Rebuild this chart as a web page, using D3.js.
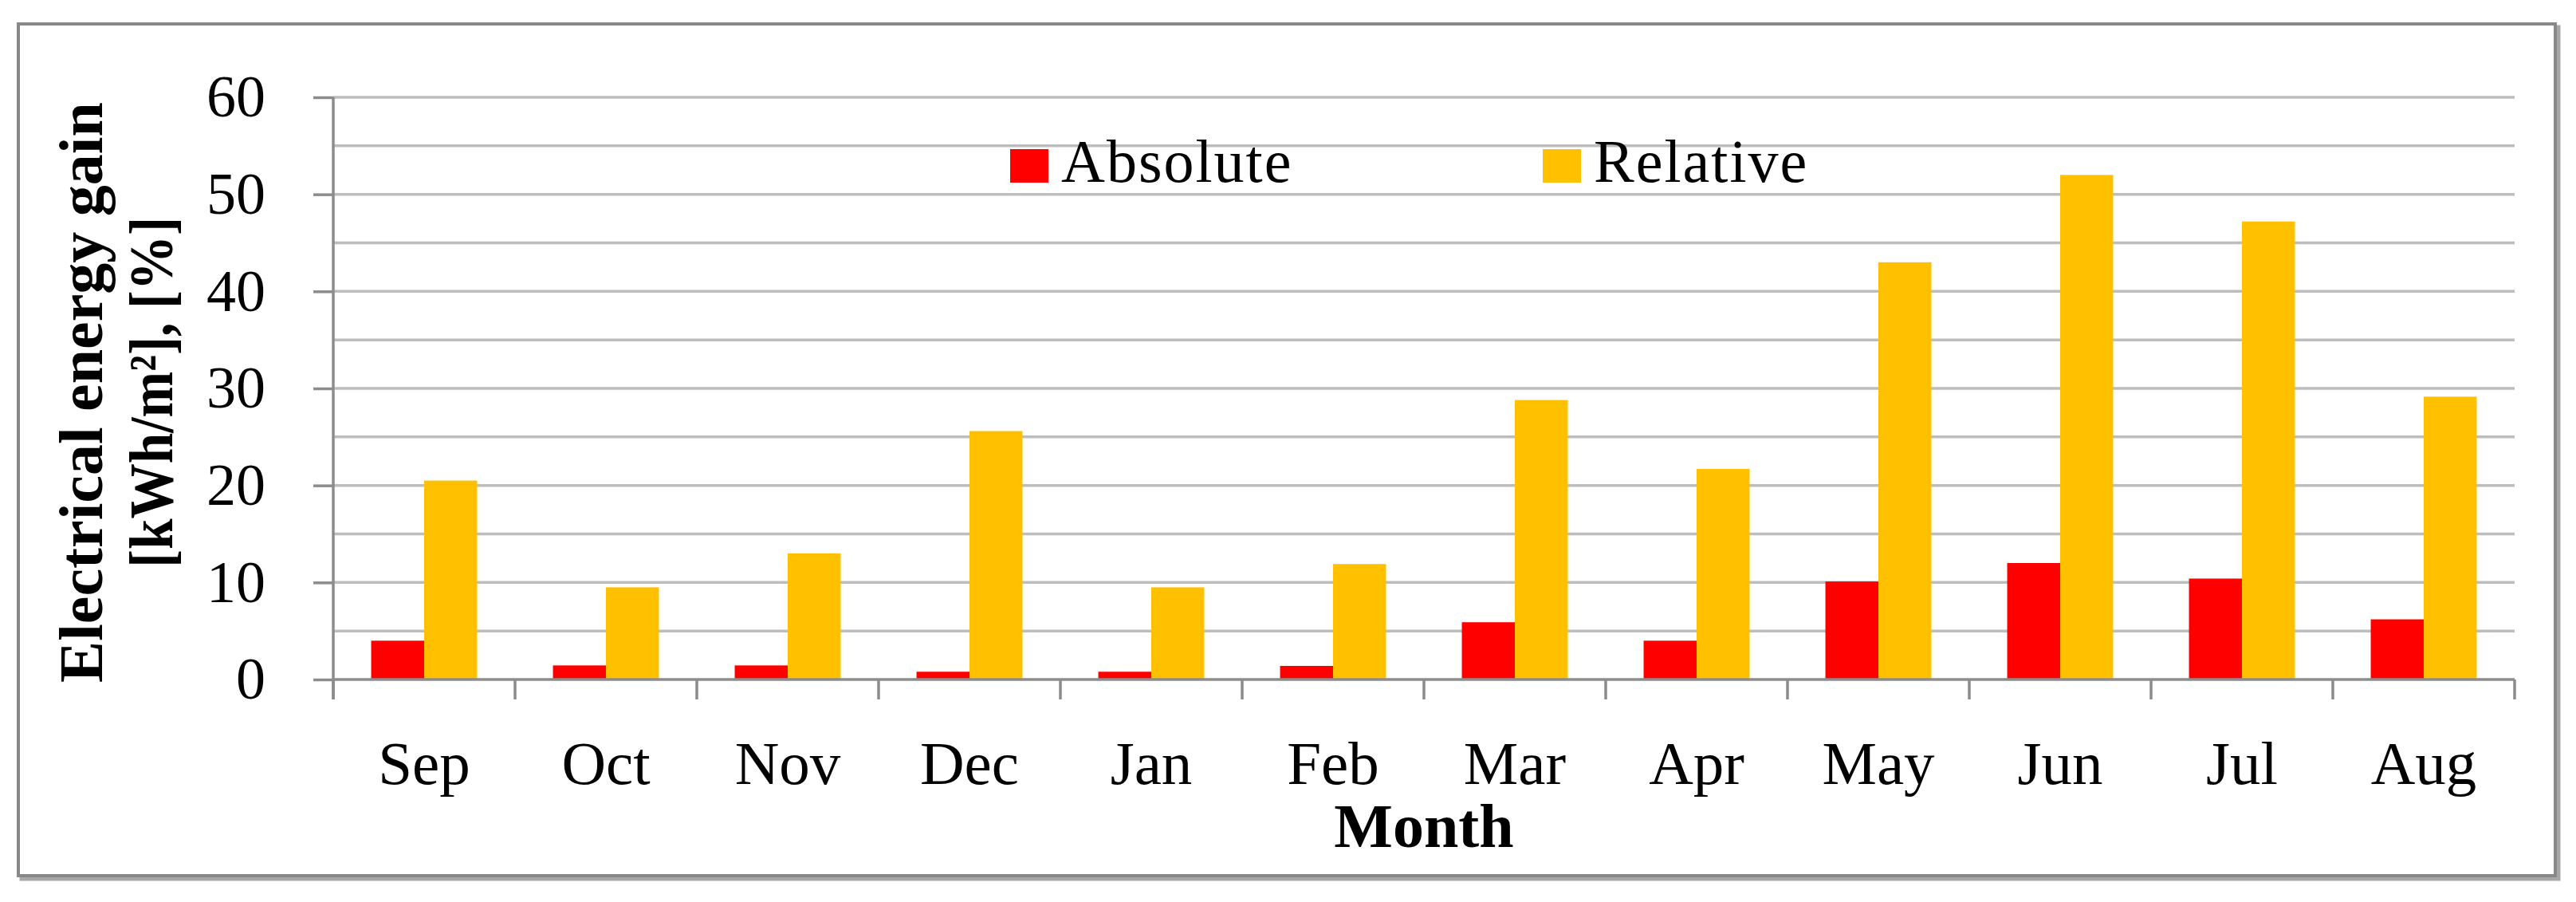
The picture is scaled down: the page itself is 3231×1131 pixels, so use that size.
<!DOCTYPE html>
<html>
<head>
<meta charset="utf-8">
<script src="https://cdn.jsdelivr.net/npm/d3@7"></script>
<style>
  html, body { margin: 0; padding: 0; background: #ffffff; }
  svg { display: block; }
  text { font-family: "Liberation Serif", "Times New Roman", serif; fill: #000; }
</style>
</head>
<body>
<svg id="chart" width="3231" height="1131"></svg>
<script>
// ---- data ----
const months = ["Sep", "Oct", "Nov", "Dec", "Jan", "Feb", "Mar", "Apr", "May", "Jun", "Jul", "Aug"];
const absoluteGain = [4.0, 1.45, 1.45, 0.8, 0.8, 1.4, 5.9, 4.0, 10.1, 12.0, 10.4, 6.2];
const relativeGain = [20.5, 9.5, 13.0, 25.6, 9.5, 11.9, 28.8, 21.7, 43.0, 52.0, 47.2, 29.15];
const seriesNames = ["Absolute", "Relative"];
const seriesColors = ["#FF0000", "#FFC000"];
const yTickValues = [0, 10, 20, 30, 40, 50, 60];
const yGridValues = [5, 10, 15, 20, 25, 30, 35, 40, 45, 50, 55, 60];
const yTitleLines = ["Electrical energy gain", "[kWh/m\u00B2], [%]"];
const xTitle = "Month";

// ---- layout ----
const svg = d3.select("#chart");
const plot = { left: 418, right: 3154, top: 122, bottom: 852 };
const axisColor = "#8c8c8c";
const gridColor = "#bdbdbd";

// outer frame with shadow
svg.append("rect").attr("x", 27).attr("y", 34).attr("width", 3182).attr("height", 1068)
  .attr("fill", "none").attr("stroke", "#a8a8a8").attr("stroke-width", 5);
svg.append("rect").attr("x", 23).attr("y", 30).attr("width", 3182).attr("height", 1068)
  .attr("fill", "#ffffff").attr("stroke", "#888888").attr("stroke-width", 4);

const y = d3.scaleLinear().domain([0, 60]).range([plot.bottom, plot.top]);
const x0 = d3.scaleBand().domain(months).range([plot.left, plot.right])
  .paddingInner(0.417).paddingOuter(0.2085);
const x1 = d3.scaleBand().domain(seriesNames).range([0, x0.bandwidth()]);

// gridlines
svg.append("g").selectAll("line").data(yGridValues).join("line")
  .attr("x1", plot.left).attr("x2", plot.right)
  .attr("y1", d => y(d)).attr("y2", d => y(d))
  .attr("stroke", gridColor).attr("stroke-width", 3.5);

// bars
const table = months.map((m, i) => ({ month: m, values: [absoluteGain[i], relativeGain[i]] }));
const groups = svg.append("g").selectAll("g").data(table).join("g")
  .attr("transform", d => `translate(${x0(d.month)},0)`);
groups.selectAll("rect").data(d => d.values.map((v, k) => ({ key: seriesNames[k], v, k })))
  .join("rect")
  .attr("x", d => x1(d.key))
  .attr("width", x1.bandwidth())
  .attr("y", d => y(d.v))
  .attr("height", d => y(0) - y(d.v))
  .attr("fill", d => seriesColors[d.k]);

// y axis
const yAxis = d3.axisLeft(y).tickValues(yTickValues).tickSize(25).tickPadding(60);
const gy = svg.append("g").attr("transform", `translate(${plot.left},0)`).call(yAxis);
gy.select(".domain").remove();
gy.selectAll(".tick line").attr("stroke", axisColor).attr("stroke-width", 3.5);
gy.selectAll(".tick text").attr("font-size", 74).attr("font-family", "Liberation Serif").attr("fill", "#000");
svg.append("line").attr("x1", plot.left).attr("x2", plot.left)
  .attr("y1", plot.top).attr("y2", plot.bottom + 25)
  .attr("stroke", axisColor).attr("stroke-width", 3.5);

// x axis
svg.append("line").attr("x1", plot.left).attr("x2", plot.right)
  .attr("y1", plot.bottom).attr("y2", plot.bottom)
  .attr("stroke", axisColor).attr("stroke-width", 3.5);
const boundaries = months.map(m => x0(m) - x0.step() * x0.paddingOuter()).concat([plot.right]);
svg.append("g").selectAll("line").data(boundaries).join("line")
  .attr("x1", d => d).attr("x2", d => d)
  .attr("y1", plot.bottom).attr("y2", plot.bottom + 25)
  .attr("stroke", axisColor).attr("stroke-width", 3.5);
const xAxis = d3.axisBottom(x0).tickSize(0).tickPadding(0);
const gx = svg.append("g").attr("transform", `translate(0,${plot.bottom})`).call(xAxis);
gx.select(".domain").remove();
gx.selectAll(".tick text").attr("font-size", 77).attr("font-family", "Liberation Serif")
  .attr("fill", "#000").attr("dy", null).attr("y", 131);

// x title
svg.append("text").attr("x", (plot.left + plot.right) / 2).attr("y", 1062)
  .attr("text-anchor", "middle").attr("font-size", 78).attr("font-weight", "bold").text(xTitle);

// y title
const yt = svg.append("text").attr("transform", "translate(0,492) rotate(-90)")
  .attr("text-anchor", "middle").attr("font-size", 78).attr("font-weight", "bold");
yt.append("tspan").attr("x", 0).attr("y", 128).text(yTitleLines[0]);
yt.append("tspan").attr("x", 0).attr("y", 216)
  .attr("textLength", 440).attr("lengthAdjust", "spacingAndGlyphs").text(yTitleLines[1]);

// legend
const legendX = [1267, 1935];
const leg = svg.append("g").selectAll("g").data(seriesNames).join("g");
leg.append("rect").attr("x", (d, i) => legendX[i]).attr("y", 187).attr("width", 48).attr("height", 42)
  .attr("fill", (d, i) => seriesColors[i]);
leg.append("text").attr("x", (d, i) => legendX[i] + 64).attr("y", 228)
  .attr("font-size", 76).attr("letter-spacing", 2).text(d => d);
</script>
</body>
</html>
